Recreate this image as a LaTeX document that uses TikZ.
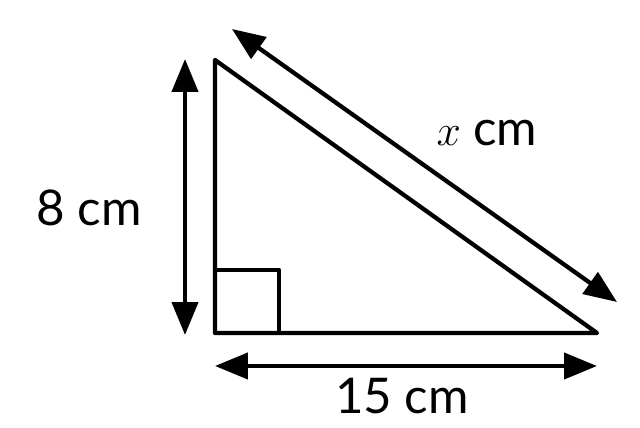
\documentclass[tikz,border=0pt]{standalone}
\usepackage{fontspec}
\setmainfont{Lato}
\usetikzlibrary{arrows.meta}

\begin{document}
\begin{tikzpicture}[x=0.02cm, y=-0.02cm,
    side/.style={line width=0.085cm, line join=round},
    measure/.style={line width=0.085cm, {Triangle[length=0.66cm,width=0.52cm]}-{Triangle[length=0.66cm,width=0.52cm]}},
    lbl/.style={font=\fontsize{28}{32}\selectfont, inner sep=0pt}]
                \useasboundingbox (0,0) rectangle (640,428);
                % triangle corners
                \coordinate (top) at (215,60);
                \coordinate (left) at (215,333);
                \coordinate (right) at (597,333);
                \draw[side] (top) -- (left) -- (right) -- cycle;
                \draw[side] (215,270) -- (279,270) -- (279,333);
                % measuring arrows
                \coordinate (ht1) at (185,59);
                \coordinate (ht2) at (185,335);
                \coordinate (bs1) at (215,366);
                \coordinate (bs2) at (597,366);
                \coordinate (hy1) at (232,29);
                \coordinate (hy2) at (617,302);
                \draw[measure] (ht1) -- (ht2);
                \draw[measure] (bs1) -- (bs2);
                \draw[measure] (hy1) -- (hy2);
                \node[lbl] (lblh) at (89,208) {8 cm};
                \node[lbl] (lblb) at (402,396) {15 cm};
                \node[lbl] (lblx) at (487,133) {$x$ cm};
            \end{tikzpicture}
\end{document}
